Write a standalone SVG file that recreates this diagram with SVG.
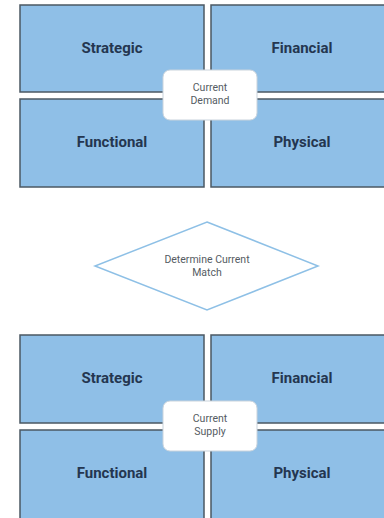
<svg xmlns="http://www.w3.org/2000/svg" width="384" height="518" viewBox="0 0 384 518">
<style>
.q{fill:#8fbfe7;stroke:#4b5863;stroke-width:1.5}
.ql{font-family:"Roboto","Liberation Sans",sans-serif;font-weight:bold;font-size:15px;fill:#243650;text-anchor:middle}
.c{fill:#ffffff;stroke:#c9d3dc;stroke-width:1}
.cl{font-family:"Roboto","Liberation Sans",sans-serif;font-size:10.5px;fill:#555c63;text-anchor:middle}
.d{fill:#ffffff;stroke:#8ec0e6;stroke-width:1.5}
</style>
<rect width="384" height="518" fill="#ffffff"/>
<g id="demand-strategic"><rect class="q" x="20" y="5" width="184" height="87"/><text class="ql" x="112" y="53">Strategic</text></g>
<g id="demand-financial"><rect class="q" x="211" y="5" width="180" height="87"/><text class="ql" x="302" y="53">Financial</text></g>
<g id="demand-functional"><rect class="q" x="20" y="99" width="184" height="88"/><text class="ql" x="112" y="147">Functional</text></g>
<g id="demand-physical"><rect class="q" x="211" y="99" width="180" height="88"/><text class="ql" x="302" y="147">Physical</text></g>
<g id="current-demand"><rect class="c" x="163" y="70" width="94" height="50" rx="7"/><text class="cl" x="210" y="91">Current</text><text class="cl" x="210" y="104">Demand</text></g>
<g id="determine-match"><polygon class="d" points="207,222 318,266 207,310 95,266"/><text class="cl" x="207" y="263">Determine Current</text><text class="cl" x="207" y="276">Match</text></g>
<g id="supply-strategic"><rect class="q" x="20" y="335" width="184" height="88"/><text class="ql" x="112" y="383">Strategic</text></g>
<g id="supply-financial"><rect class="q" x="211" y="335" width="180" height="88"/><text class="ql" x="302" y="383">Financial</text></g>
<g id="supply-functional"><rect class="q" x="20" y="430" width="184" height="95"/><text class="ql" x="112" y="478">Functional</text></g>
<g id="supply-physical"><rect class="q" x="211" y="430" width="180" height="95"/><text class="ql" x="302" y="478">Physical</text></g>
<g id="current-supply"><rect class="c" x="163" y="401" width="94" height="50" rx="7"/><text class="cl" x="210" y="422">Current</text><text class="cl" x="210" y="435">Supply</text></g>
<g id="connectors"></g>
</svg>
